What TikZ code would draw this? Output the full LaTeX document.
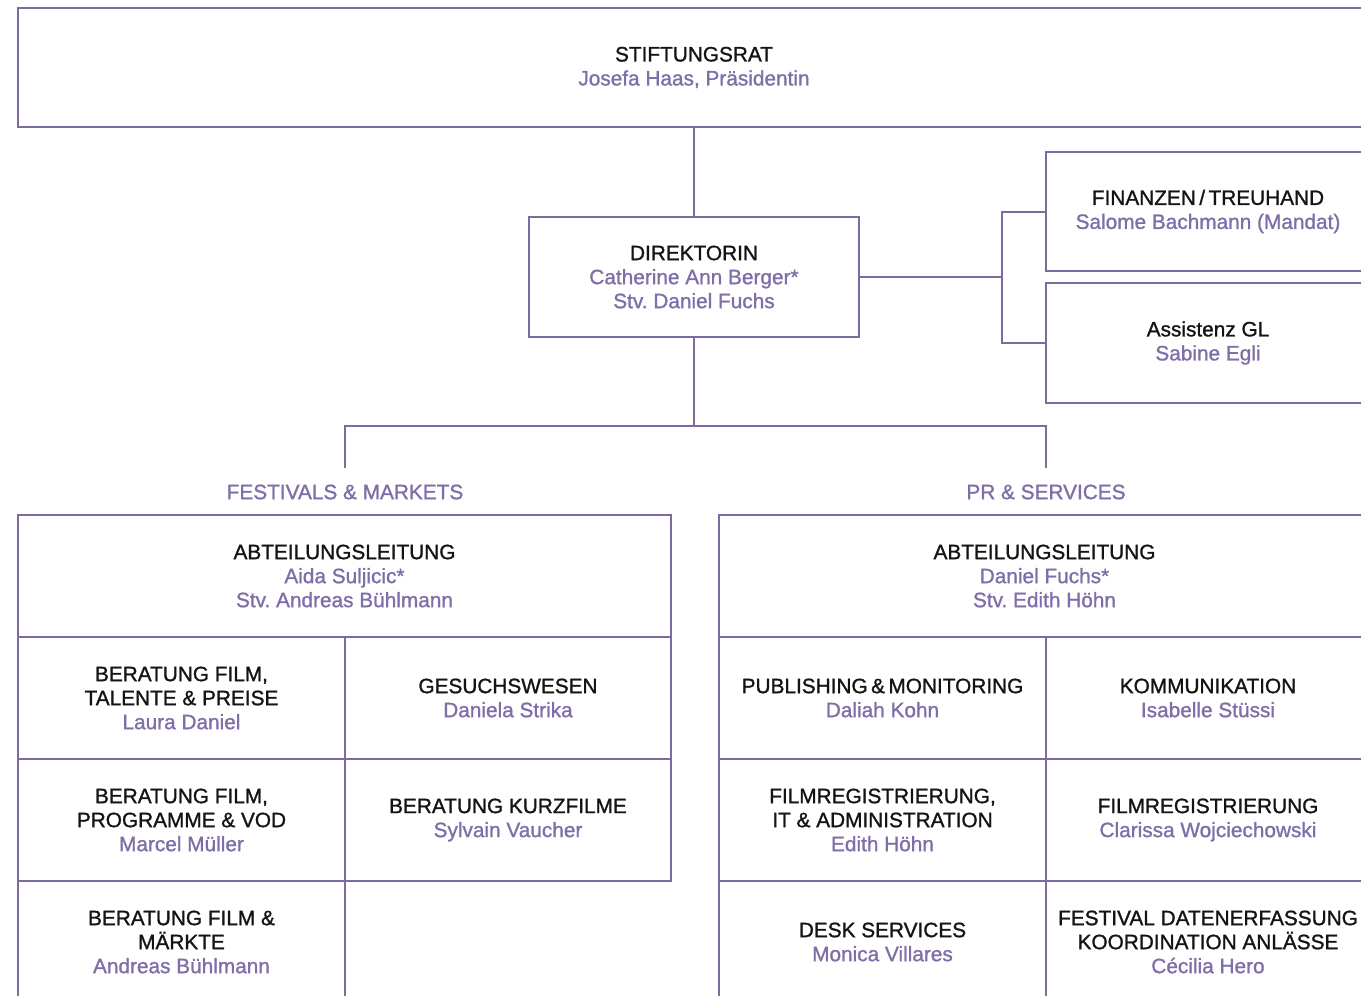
\documentclass[tikz,border=0pt]{standalone}
\usepackage{fontspec}
\setmainfont{Liberation Sans}
\newfontfamily\orgfont{Liberation Sans}[FakeBold=1.2]
\usepackage{xcolor}
\usepackage{tikz}
\usetikzlibrary{calc}

\definecolor{orgline}{RGB}{124,106,160}
\definecolor{orgname}{RGB}{128,110,168}
\definecolor{orghead}{RGB}{20,20,20}

\newcommand{\who}[1]{\textcolor{orgname}{#1}}
\frenchspacing

\begin{document}
\begin{tikzpicture}[
		%Global config
		x=1pt, y=-1pt,
		line width=2pt,
		color = orgline,
		font=\orgfont\fontsize{20.8}{24}\selectfont\addfontfeature{FakeBold=1.2},
		%Styles
		box/.style={
			draw=orgline,
			line width=2pt,
			align=center,
			inner sep=0pt,
			text=orghead,
		},
		cellL/.style={box, minimum width=327pt, minimum height=122pt},
		cellR/.style={box, minimum width=326pt, minimum height=122pt},
		cellE/.style={box, minimum width=324pt, minimum height=122pt},
		unit/.style={
			text=orgname,
			inner sep=0pt,
		},
		link/.style={
			line width=2pt,
			color=orgline
			}
		]
		\useasboundingbox (0,0) rectangle (1361,996);
		
		% top of the tree
		\node[box, minimum width=1352pt, minimum height=119pt] (rat) at (694,67.5) {STIFTUNGSRAT\\\who{Josefa Haas, Präsidentin}};
		\node[box, minimum width=330pt, minimum height=120pt] (dir) at (694,277) {DIREKTORIN\\\who{Catherine Ann Berger*}\\\who{Stv. Daniel Fuchs}};
		\node[box, minimum width=324pt, minimum height=119pt] (fin) at (1208,211.5) {FINANZEN\,/\,TREUHAND\\\who{Salome Bachmann (Mandat)}};
		\node[box, minimum width=324pt, minimum height=120pt] (ass) at (1208,343) {Assistenz GL\\\who{Sabine Egli}};
		
		\coordinate (brk) at (1002,277);
		\coordinate (hub) at (694,426);
		\coordinate (fm) at (345,468);
		\coordinate (pr) at (1046,468);
		
		\draw[link] (rat.south) -- (dir.north);
		\draw[link] (dir.east) -- (brk);
		\draw[link] (fin.west) -| (brk) |- (ass.west);
		\draw[link] (dir.south) -- (hub);
		\draw[link] (fm) |- (hub) -| (pr);
		
		% departments
		\node[unit] (fmlab) at (345,492) {FESTIVALS \& MARKETS};
		\node[unit] (prlab) at (1046,492) {PR \& SERVICES};
		
		% festivals & markets
		\node[box, minimum width=653pt, minimum height=122pt] (abtL) at (344.5,576) {ABTEILUNGSLEITUNG\\\who{Aida Suljicic*}\\\who{Stv. Andreas Bühlmann}};
		\node[cellL] (talente) at (181.5,698) {BERATUNG FILM,\\TALENTE \& PREISE\\\who{Laura Daniel}};
		\node[cellR] (gesuch) at (508,698) {GESUCHSWESEN\\\who{Daniela Strika}};
		\node[cellL] (vod) at (181.5,820) {BERATUNG FILM,\\PROGRAMME \& VOD\\\who{Marcel Müller}};
		\node[cellR] (kurz) at (508,820) {BERATUNG KURZFILME\\\who{Sylvain Vaucher}};
		\node[cellL] (maerkte) at (181.5,942) {BERATUNG FILM \&\\MÄRKTE\\\who{Andreas Bühlmann}};
		
		% pr & services
		\node[box, minimum width=651pt, minimum height=122pt] (abtR) at (1044.5,576) {ABTEILUNGSLEITUNG\\\who{Daniel Fuchs*}\\\who{Stv. Edith Höhn}};
		\node[cellL] (publ) at (882.5,698) {PUBLISHING\,\&\,MONITORING\\\who{Daliah Kohn}};
		\node[cellE] (komm) at (1208,698) {KOMMUNIKATION\\\who{Isabelle Stüssi}};
		\node[cellL] (admin) at (882.5,820) {FILMREGISTRIERUNG,\\IT \& ADMINISTRATION\\\who{Edith Höhn}};
		\node[cellE] (freg) at (1208,820) {FILMREGISTRIERUNG\\\who{Clarissa Wojciechowski}};
		\node[cellL] (desk) at (882.5,942) {DESK SERVICES\\\who{Monica Villares}};
		\node[cellE] (anl) at (1208,942) {FESTIVAL DATENERFASSUNG\\KOORDINATION ANLÄSSE\\\who{Cécilia Hero}};
	\end{tikzpicture}
\end{document}
